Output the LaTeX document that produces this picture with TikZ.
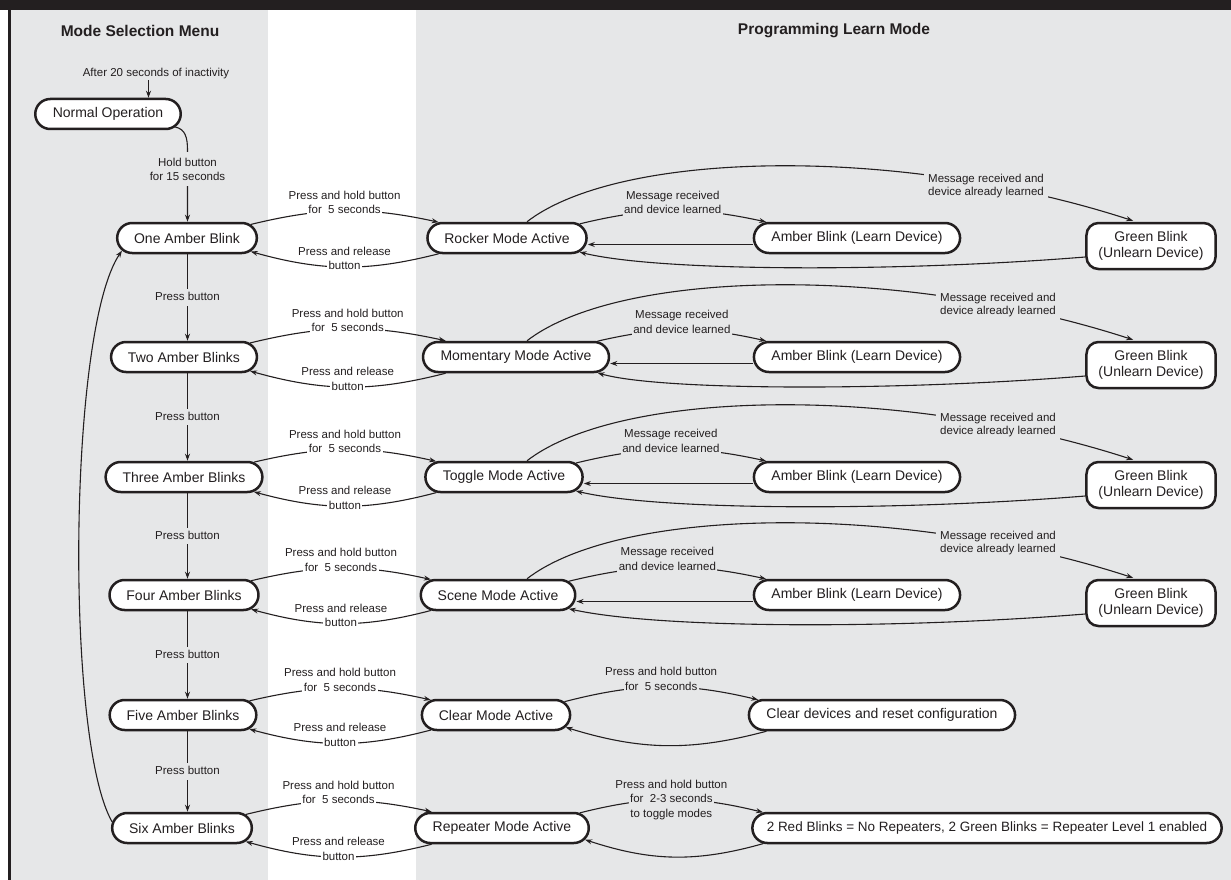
\documentclass[tikz,border=0pt]{standalone}
\usepackage{fontspec}
\setmainfont{Liberation Sans}
\usetikzlibrary{arrows.meta,shapes.misc}
\definecolor{ink}{HTML}{231F20}
\definecolor{bg}{HTML}{E6E7E8}
\newcommand\bxf{\fontsize{14}{16}\selectfont}
\newcommand\lbf{\fontsize{11.5}{13.5}\selectfont}
\newcommand\hdf{\bfseries\fontsize{15.5}{18}\selectfont}
\begin{document}
\begin{tikzpicture}[x=1pt,y=-1pt,
  stbox/.style={rounded rectangle, draw=ink, line width=2.5pt, fill=white, minimum height=30pt, inner xsep=16pt, inner ysep=0pt, font=\bxf, text=ink},
  gbox/.style={rectangle, rounded corners=12pt, draw=ink, line width=2.5pt, fill=white, inner xsep=12pt, inner ysep=5pt, align=center, font=\bxf, text=ink, minimum height=46pt},
  lbl/.style={font=\lbf, text=ink, text height=8.5pt, text depth=2.4pt, inner sep=1.5pt},
  onw/.style={lbl, fill=white},
  ong/.style={lbl, fill=bg},
  mlbl/.style={font=\lbf, text=ink, align=center, inner sep=2pt},
  conn/.style={draw=ink, line width=1.1pt, -{Stealth[length=7pt,width=5pt]}},
  every label/.style={font=\lbf, text=ink, text height=8.5pt, text depth=2.4pt, inner sep=0pt},
  label distance=1pt]
\path[use as bounding box] (0,0) rectangle (1231,880);
% backgrounds
\fill[white] (0,0) rectangle (1231,880);
\fill[bg] (11,10) rectangle (1231,880);
\fill[white] (268,10) rectangle (416,880);
\fill[ink] (0,0) rectangle (1231,10);
\fill[ink] (8,10) rectangle (11,880);
% headers
\node[font=\hdf, text=ink] (hdA) at (140,31) {Mode Selection Menu};
\node[font=\hdf, text=ink] (hdB) at (834,31) {Programming Learn Mode};
% left column
\coordinate (vx) at (187.5,0);
\coordinate (ax) at (148.5,0);
\coordinate (bx) at (527,0);
\coordinate (ex) at (1136,0);
\node[lbl] (after) at (156,73) {After 20 seconds of inactivity};
\node[stbox] (normal) at (108,114) {Normal Operation};
\node[stbox] (L1) at (187,238) {One Amber Blink};
\node[stbox] (L2) at (184,357) {Two Amber Blinks};
\node[stbox] (L3) at (184,477) {Three Amber Blinks};
\node[stbox] (L4) at (184,595) {Four Amber Blinks};
\node[stbox] (L5) at (183,715) {Five Amber Blinks};
\node[stbox] (L6) at (182,828) {Six Amber Blinks};
% mode boxes
\node[stbox] (M1) at (507,238) {Rocker Mode Active};
\node[stbox] (M2) at (516,357) {Momentary Mode Active};
\node[stbox] (M3) at (504,477) {Toggle Mode Active};
\node[stbox] (M4) at (498,595) {Scene Mode Active};
\node[stbox] (M5) at (496,715) {Clear Mode Active};
\node[stbox] (M6) at (502,828) {Repeater Mode Active};
\foreach \i/\y in {1/238,2/357,3/477,4/595}{
  \node[stbox] (A\i) at (857,\y) {Amber Blink (Learn Device)};
  \node[gbox] (G\i) at (1151,\y+8) {Green Blink\\(Unlearn Device)};
}
\node[stbox] (C5) at (882,715) {Clear devices and reset configuration};
\node[stbox, font=\fontsize{13.5}{16}\selectfont, inner xsep=13pt] (R6) at (987,828) {2 Red Blinks = No Repeaters, 2 Green Blinks = Repeater Level 1 enabled};
% left connectors
\draw[conn] (after.south -| ax) -- (normal.north -| ax);
\draw[conn] (normal.-11) .. controls (185.5,129) and (187.5,138) .. (187.5,150) -- node[pos=.27, mlbl, fill=bg, inner ysep=6pt] {Hold button\\for 15 seconds} (L1.north -| vx);
\foreach \a/\b in {1/2,2/3,3/4,4/5,5/6}{
  \draw[conn] (L\a.south -| vx) -- node[ong, inner ysep=3pt] {Press button} (L\b.north -| vx);
}
\draw[conn] (L6.175) .. controls (65,740) and (68,330) .. (L1.191);
\foreach \i in {1,...,6}{
  \draw[conn] (L\i.12) to[bend left=13] node[onw, label={above:Press and hold button}] {for\ \ 5 seconds} (M\i.167);
  \draw[conn] (M\i.193) to[bend left=15] node[onw, label={above:Press and release}] {button} (L\i.-12);
}
% learn rows
\foreach \i/\y/\lx in {1/238/928,2/357/940,3/477/940,4/595/940}{
  \draw[conn] (M\i.11) to[bend left=13] node[ong, label={above:Message received}] {and device learned} (A\i.170);
  \draw[conn] ([yshift=-6.5pt]A\i.west) -- ([yshift=-6.5pt]M\i.east);
  \draw[conn] ([yshift=-11pt]G\i.west) .. controls (900,\y+34) and (660,\y+34) .. (M\i.-11);
  \draw[conn, shorten >=3pt] (M\i.north -| bx) .. controls (620,\y-88) and (900,\y-93) .. (G\i.north -| ex);
  \node[font=\lbf, text=ink, fill=bg, align=left, inner sep=4pt, anchor=west] (K\i) at (\lx-4,\y-52) {Message received and\\device already learned};
}
% clear row
\draw[conn] (M5.11) to[bend left=14] node[ong, label={above:Press and hold button}] {for\ \ 5 seconds} (C5.173);
\draw[conn] (C5.188) to[bend left=16] (M5.-10);
% repeater row
\draw[conn] (M6.11) to[bend left=14] node[ong, label={above:Press and hold button}, label={below:to toggle modes}] {for\ \ 2-3 seconds} (R6.176.5);
\draw[conn] (R6.184) to[bend left=17] (M6.-8);
\end{tikzpicture}
\end{document}
